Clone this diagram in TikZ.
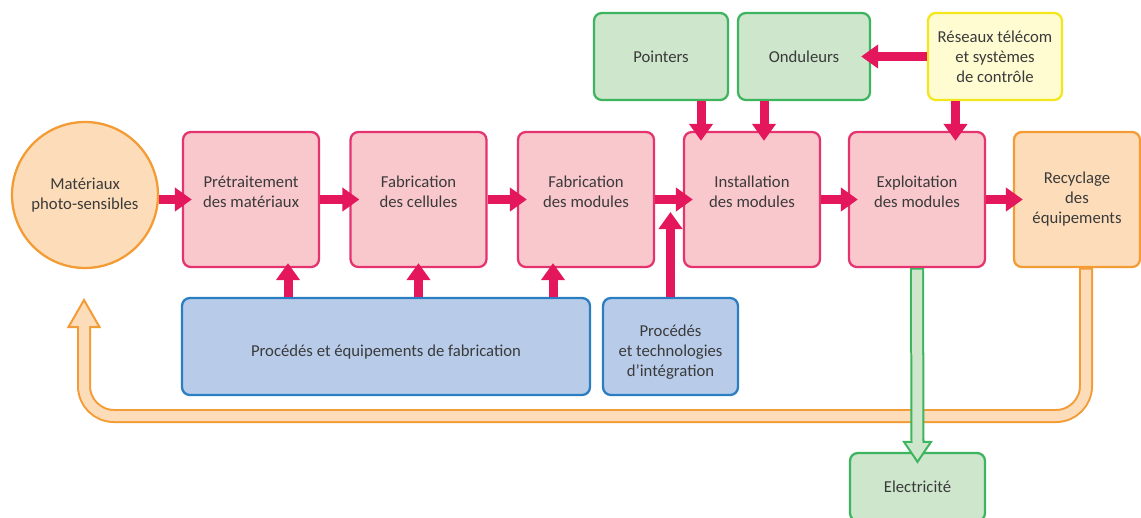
\documentclass[tikz,border=0pt]{standalone}
\usepackage{fontspec}
\setmainfont{Carlito}
\usetikzlibrary{arrows.meta, calc}
\definecolor{cpink}{HTML}{E4336F}
\definecolor{cpinkl}{HTML}{F9C8CD}
\definecolor{cred}{HTML}{E5175C}
\definecolor{cgreen}{HTML}{3DB55E}
\definecolor{cgreenl}{HTML}{CDE6CC}
\definecolor{cblue}{HTML}{2A7DC1}
\definecolor{cbluel}{HTML}{B8CCEA}
\definecolor{cyellow}{HTML}{F3E71C}
\definecolor{cyellowl}{HTML}{FFFCD2}
\definecolor{corange}{HTML}{F39B35}
\definecolor{corangel}{HTML}{FDDDB9}
\definecolor{ctext}{HTML}{3A3A3A}
\tikzset{
  every picture/.style={font=\fontsize{9.5}{11.4}\selectfont, text=ctext, line width=1.3pt},
  box/.style={draw=#1, fill=#1l, rounded corners=4.5pt, align=center, inner sep=3pt, minimum width=2.72cm, minimum height=2.7cm},
  box/.default=cpink,
  stagebox/.style={box, text depth=0.31cm},
  topbox/.style={box=#1, minimum height=1.74cm},
  lowbox/.style={box=cblue, minimum height=1.94cm},
  parrow/.style={-{Triangle[length=0.34cm, width=0.46cm]}, draw=cred, line width=0.18cm, shorten >=-0.2cm},
  tube/.style={draw=#1, line width=0.28cm},
  tubein/.style={draw=#1l, line width=0.2cm},
  tubehead/.style={draw=#1, fill=#1l, line width=0.04cm, line join=miter},
}

\begin{document}
\begin{tikzpicture}
  \useasboundingbox (0,0) rectangle (22.82,-10.36);
  \clip (0,0) rectangle (22.82,-10.36);
  % main chain
  \node[circle, draw=corange, fill=corangel, minimum size=2.92cm, inner sep=0pt, align=center] (mat) at (1.70,-3.90) {Matériaux\\photo-sensibles};
  \node[stagebox] (pre) at (5.02,-3.99) {Prétraitement\\des matériaux};
  \node[stagebox] (cel) at (8.37,-3.99) {Fabrication\\des cellules};
  \node[stagebox] (modu) at (11.72,-3.99) {Fabrication\\des modules};
  \node[stagebox] (inst) at (15.04,-3.99) {Installation\\des modules};
  \node[stagebox] (expl) at (18.34,-3.99) {Exploitation\\des modules};
  \node[box=corange, minimum width=2.52cm] (recy) at (21.54,-3.99) {Recyclage\\des\\équipements};
  % inputs from above
  \node[topbox=cgreen, minimum width=2.68cm] (poin) at (13.22,-1.13) {Pointers};
  \node[topbox=cgreen, minimum width=2.64cm] (ond) at (16.08,-1.13) {Onduleurs};
  \node[topbox=cyellow, minimum width=2.68cm] (res) at (19.90,-1.13) {Réseaux télécom\\et systèmes\\de contrôle};
  % inputs from below
  \node[lowbox, minimum width=8.16cm, text height=0.44cm] (fab) at (7.72,-6.93) {Procédés et équipements de fabrication};
  \node[lowbox, minimum width=2.70cm, text height=1.24cm] (integ) at (13.41,-6.93) {Procédés\\et technologies\\d'intégration};
  \node[box=cgreen, minimum width=2.70cm, minimum height=1.36cm] (elec) at (18.35,-9.74) {Electricité};

  % recycling loop back to the materials
  \coordinate (back) at (1.68,-6.00);
  \coordinate (low) at (0,-8.32);
  \coordinate (rdown) at ($(recy.south)+(0.18,0)$);
  \draw[tube=corange, rounded corners=0.6cm] (rdown) -- (rdown |- low) -- (back |- low) -- ($(back)+(0,-0.54)$);
  \draw[tubehead=corange] ($(back)+(-0.31,-0.54)$) -- (back) -- ($(back)+(0.31,-0.54)$) -- cycle;
  \draw[tubein=corange, rounded corners=0.6cm] ([yshift=-0.03cm]rdown) -- (rdown |- low) -- (back |- low) -- ($(back)+(0,-0.5)$);
  % electricity out
  \coordinate (gtip) at ($(elec.north)+(0,-0.2)$);
  \draw[tube=cgreen] (expl.south) -- ($(gtip)+(0,0.4)$);
  \draw[tubehead=cgreen] ($(gtip)+(-0.27,0.4)$) -- (gtip) -- ($(gtip)+(0.27,0.4)$) -- cycle;
  \draw[tubein=cgreen] ([yshift=-0.03cm]expl.south) -- ($(gtip)+(0,0.36)$);

  % chain arrows
  \draw[parrow] (mat.east |- pre.west) -- (pre.west);
  \draw[parrow] (pre.east) -- (cel.west);
  \draw[parrow] (cel.east) -- (modu.west);
  \draw[parrow] (modu.east) -- (inst.west);
  \draw[parrow] (inst.east) -- (expl.west);
  \draw[parrow] (expl.east) -- (recy.west);
  % arrows from above
  \draw[parrow] ([xshift=0.80cm]poin.south) -- ([xshift=0.80cm]poin.south |- inst.north);
  \draw[parrow] ([xshift=-0.80cm]ond.south) -- ([xshift=-0.80cm]ond.south |- inst.north);
  \draw[parrow] ([xshift=-0.79cm]res.south) -- ([xshift=-0.79cm]res.south |- expl.north);
  \draw[parrow] (res.west) -- (ond.east);
  % arrows from below
  \draw[parrow, shorten >=-0.1cm] ([xshift=0.74cm]pre.south |- fab.north) -- ([xshift=0.74cm]pre.south);
  \draw[parrow, shorten >=-0.1cm] (cel.south |- fab.north) -- (cel.south);
  \draw[parrow, shorten >=-0.1cm] ([xshift=-0.66cm]modu.south |- fab.north) -- ([xshift=-0.66cm]modu.south);
  \coordinate (meet) at ($(modu.east)!0.5!(inst.west)+(0,-0.25)$);
  \draw[parrow, shorten >=0pt] (integ.north) -- (integ.north |- meet);
\end{tikzpicture}
\end{document}
